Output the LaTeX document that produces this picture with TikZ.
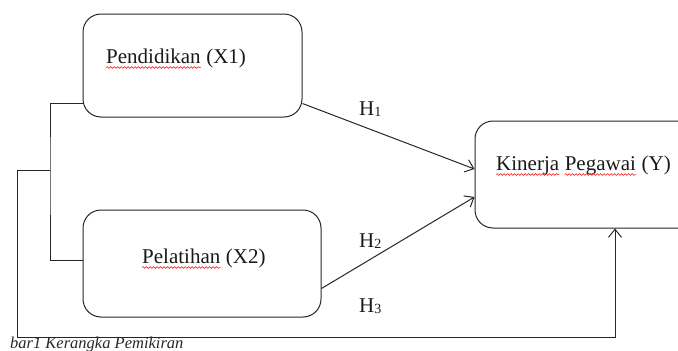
\documentclass[tikz,border=0pt]{standalone}
\usepackage{fontspec}
\setmainfont{Liberation Serif}
\usetikzlibrary{arrows.meta,decorations.pathmorphing}
\newcommand\bawahH[1]{H\raisebox{-1.5pt}{\fontsize{14}{14}\selectfont #1}}
\begin{document}
\begin{tikzpicture}[x=1pt,y=-1pt]
  \tikzstyle{kotak}=[draw=black!85,rounded corners=18pt,line width=1pt]
  \tikzstyle{teks}=[anchor=base west,inner sep=0pt,text=black!90,font=\fontsize{21}{25}\selectfont]
  \tikzstyle{garis}=[draw=black!85,line width=1pt]
  \tikzstyle{panah}=[garis,-{Straight Barb[length=8pt,width=13pt]}]
  \tikzstyle{ejaan}=[red,line width=0.5pt,decorate,decoration={snake,segment length=3.5pt,amplitude=0.9pt}]
  \clip (0,0) rectangle (678,351);
  \node[kotak,minimum width=219pt,minimum height=103pt] (x1) at (192.5,65.5) {};
  \node[kotak,minimum width=238pt,minimum height=107pt] (x2) at (202,263.5) {};
  \node[kotak,minimum width=225pt,minimum height=107pt] (y) at (587.5,174.5) {};
  % teks di dalam kotak, kata yang salah eja dipisah
  \node[teks] (w1) at (106,63) {Pendidikan};
  \node[teks,xshift=5.25pt] (w1b) at (w1.base east) {(X1)};
  \node[teks] (w2) at (142,263) {Pelatihan};
  \node[teks,xshift=5.25pt] (w2b) at (w2.base east) {(X2)};
  \node[teks] (w3) at (496,170) {Kinerja};
  \node[teks,xshift=5.25pt] (w4) at (w3.base east) {Pegawai};
  \node[teks,xshift=5.25pt] (w4b) at (w4.base east) {(Y)};
  \foreach \w in {w1,w2,w3,w4}
    \draw[ejaan] ([yshift=-4.5pt]\w.base west) -- ([yshift=-4.5pt]\w.base east);
  \node[teks] (h1) at (359,115) {\bawahH{1}};
  \node[teks] (h2) at (359,247) {\bawahH{2}};
  \node[teks] (h3) at (359,312) {\bawahH{3}};
  \node[anchor=base west,inner sep=0pt,text=black!85,font=\itshape\fontsize{16.5}{18}\selectfont] (judul) at (10,348) {bar1 Kerangka Pemikiran};
  \coordinate (cabang) at (50,170);
  \coordinate (pojok) at (17,170);
  \coordinate (bawah) at (615,337);
  \draw[garis] ([yshift=14pt]x1.south west) -| (cabang) |- ([yshift=3.5pt]x2.west);
  \draw[panah] (cabang) -- (pojok) |- (bawah) -- (bawah |- y.south);
  \draw[panah] ([yshift=14pt]x1.south east) -- ([yshift=5.5pt]y.west);
  \draw[panah] ([yshift=29pt]x2.south east) -- ([yshift=-22.5pt]y.west);
\end{tikzpicture}
\end{document}
